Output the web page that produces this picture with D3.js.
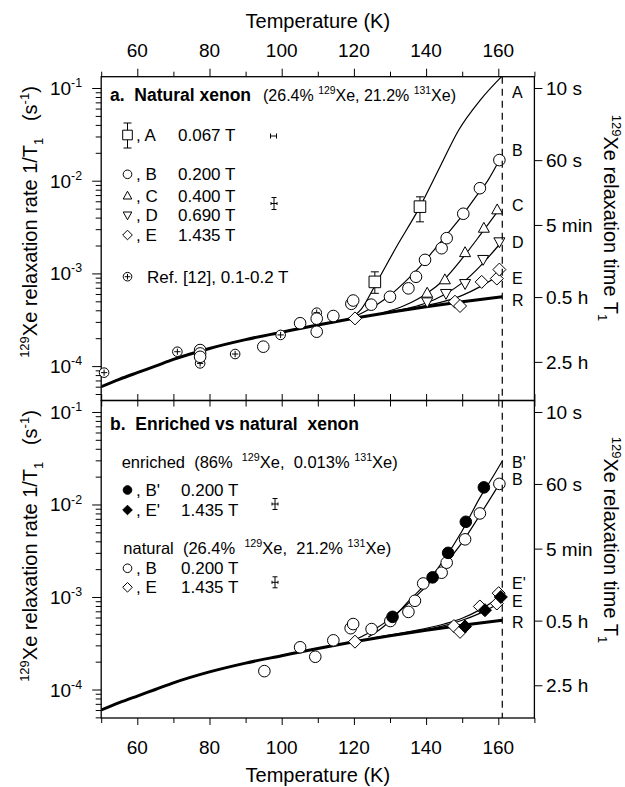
<!DOCTYPE html>
<html>
<head>
<meta charset="utf-8">
<script src="https://cdn.jsdelivr.net/npm/d3@7"></script>
<style>
  body { margin: 0; background: #fff; }
  svg { font-family: "Liberation Sans", Arial, Helvetica, sans-serif; }
  text { white-space: pre; }
</style>
</head>
<body>
<svg id="chart" width="625" height="787"></svg>
<script>
// ---- axis ticks ----
const tempMajor = [60, 80, 100, 120, 140, 160];
const tempMinor = [50, 70, 90, 110, 130, 150, 170];
const rateMajor = [1e-1, 1e-2, 1e-3, 1e-4];
const rateExp = ["-1", "-2", "-3", "-4"];
const timeTicks = [1 / 10, 1 / 60, 1 / 300, 1 / 1800, 1 / 9000];
const timeLabels = ["10 s", "60 s", "5 min", "0.5 h", "2.5 h"];
const cutoffT = 161.1;

// ---- panel a: natural xenon, [T (K), rate (1/s)] ----
const aPoints = [[125.8, 8.1e-4], [138.3, 5.25e-3]];
const aErrors = [[6.1e-4, 1.04e-3], [3.6e-3, 6.7e-3]];
const bPointsTop = [
  [77.4, 1.49e-4], [77.4, 1.37e-4], [77.4, 1.26e-4], [94.9, 1.62e-4],
  [105.1, 2.9e-4], [109.7, 3.25e-4], [109.7, 2.35e-4], [114.3, 3.47e-4],
  [119.3, 4.7e-4], [119.8, 5.1e-4], [124.8, 4.6e-4], [130, 5.6e-4],
  [135.1, 6.9e-4], [137.2, 9.2e-4], [139.7, 1.4e-3], [144.3, 1.87e-3],
  [145.7, 2.4e-3], [150.3, 4.4e-3], [154.9, 8.3e-3], [160.3, 1.67e-2]
];
const cPoints = [[140.3, 6.1e-4], [145.2, 8.5e-4], [150.8, 1.67e-3], [156, 3.06e-3], [159.7, 4.83e-3]];
const dPoints = [[140.3, 4.95e-4], [145.5, 6.1e-4], [150.8, 7.8e-4], [155.8, 1.42e-3], [160.3, 2.2e-3]];
const ePointsTop = [[120.3, 3.27e-4], [148, 4.95e-4], [149.4, 4.45e-4], [155.4, 8.1e-4], [159.6, 8.8e-4], [160.3, 1.1e-3]];
const refPoints = [[50.8, 8.5e-5], [71.1, 1.43e-4], [77.4, 1.07e-4], [87.1, 1.35e-4], [99.7, 2.17e-4], [109.7, 3.77e-4]];

// fitted curves
const curveR = [
  [50, 6.0e-5], [55, 7.2e-5], [60, 8.5e-5], [65, 1.0e-4], [70, 1.18e-4], [80, 1.55e-4],
  [90, 1.93e-4], [100, 2.32e-4], [110, 2.78e-4], [120, 3.28e-4], [130, 3.82e-4],
  [140, 4.38e-4], [150, 4.95e-4], [161.1, 5.6e-4]
];
const curveA = [[118, 3.2e-4], [122, 4.1e-4], [126, 7.6e-4], [132, 2.0e-3], [138, 5.0e-3], [144, 1.45e-2], [149, 3.5e-2], [155, 7.4e-2], [161.1, 0.135]];
const curveBTop = [[118, 3.2e-4], [122, 3.7e-4], [126, 4.5e-4], [130, 5.8e-4], [134, 8.0e-4], [138, 1.15e-3], [142, 1.75e-3], [146, 2.7e-3], [150, 4.2e-3], [154, 6.9e-3], [157, 9.9e-3], [160.3, 1.67e-2]];
const curveC = [[128, 3.75e-4], [134, 4.5e-4], [140, 6.0e-4], [145, 8.6e-4], [150, 1.45e-3], [155, 2.6e-3], [159.7, 4.6e-3]];
const curveD = [[130, 3.85e-4], [136, 4.3e-4], [140, 4.8e-4], [145, 5.9e-4], [150, 7.9e-4], [155, 1.2e-3], [160.3, 2.05e-3]];
const curveETop = [[134, 4.1e-4], [140, 4.5e-4], [145, 5.0e-4], [150, 5.8e-4], [155, 7.2e-4], [160.9, 1.0e-3]];

// ---- panel b: enriched vs natural ----
const bEnrPoints = [[130.7, 6.1e-4], [141.8, 1.63e-3], [146.1, 3.0e-3], [151, 6.5e-3], [156, 1.53e-2]];
const eEnrPoints = [[150.8, 4.8e-4], [156.3, 7.2e-4], [160.7, 1.0e-3]];
const bPointsBot = [
  [95.2, 1.58e-4], [105.1, 2.86e-4], [109.3, 2.26e-4], [114.3, 3.4e-4], [119.1, 4.6e-4],
  [119.8, 5.1e-4], [124.9, 4.5e-4], [130.1, 5.5e-4], [135.1, 6.9e-4], [136.9, 9.1e-4],
  [139.2, 1.4e-3], [144.3, 1.83e-3], [145.7, 2.35e-3], [150.8, 4.2e-3], [154.9, 8.0e-3], [160.3, 1.67e-2]
];
const ePointsBot = [[120.3, 3.29e-4], [147.7, 4.85e-4], [149.4, 4.2e-4], [154.9, 7.9e-4], [159.6, 8.5e-4], [160.1, 1.1e-3]];
const curveBEnr = [[124, 3.7e-4], [128, 4.7e-4], [131, 6.0e-4], [135, 8.9e-4], [140, 1.4e-3], [145, 2.55e-3], [150, 5.2e-3], [155, 1.2e-2], [158, 1.85e-2], [161.2, 3.0e-2]];
const curveBBot = [[120, 3.4e-4], [125, 4.3e-4], [130, 5.8e-4], [135, 8.5e-4], [140, 1.3e-3], [145, 2.2e-3], [150, 3.9e-3], [155, 7.8e-3], [160.3, 1.67e-2]];
const curveEEnr = [[125, 3.6e-4], [135, 4.2e-4], [145, 5.1e-4], [150, 5.9e-4], [155, 7.3e-4], [161.2, 1.05e-3]];
const curveEBot = [[125, 3.55e-4], [135, 4.1e-4], [145, 4.9e-4], [150, 5.6e-4], [155, 6.7e-4], [160.5, 8.6e-4]];

// curve end labels: [label, rate where the label sits]
const labelsTop = [["A", 0.091], ["B", 0.0214], ["C", 5.47e-3], ["D", 2.18e-3], ["E", 8.9e-4], ["R", 5.16e-4]];
const labelsBot = [["B'", 0.029], ["B", 0.0189], ["E'", 1.43e-3], ["E", 9.1e-4], ["R", 5.4e-4]];

const svg = d3.select("#chart");
svg.append("rect").attr("width", 625).attr("height", 787).attr("fill", "#fff");

const x = d3.scaleLinear().domain([50, 170]).range([101.2, 534.4]);
const yTop = d3.scaleLog().domain([Math.pow(10, -4.371), Math.pow(10, -0.878)]).range([400.5, 76.7]);
const yBot = d3.scaleLog().domain([Math.pow(10, -4.308), Math.pow(10, -0.876)]).range([718, 400.5]);

// text with super/subscripts: parts = [[str, kind]]
function rich(t, parts, fs) {
  let shift = 0;
  parts.forEach(([str, kind]) => {
    const target = kind === "sup" ? -fs * 0.42 : kind === "sub" ? fs * 0.28 : 0;
    t.append("tspan")
      .attr("dy", target - shift)
      .attr("font-size", kind ? fs * 0.65 : fs)
      .text(str);
    shift = target;
  });
  return t;
}

function markerPath(type, s) {
  switch (type) {
    case "square": return `M${-s},${-s}H${s}V${s}H${-s}Z`;
    case "up": return `M0,${-s * 1.1}L${s},${s * 0.7}L${-s},${s * 0.7}Z`;
    case "down": return `M0,${s * 1.1}L${s},${-s * 0.7}L${-s},${-s * 0.7}Z`;
    case "diamond": return `M0,${-s}L${s},0L0,${s}L${-s},0Z`;
    default: return d3.arc()({ innerRadius: 0, outerRadius: s, startAngle: 0, endAngle: 2 * Math.PI });
  }
}

function drawMarker(g, cx, cy, type, s, filled) {
  g.append("path")
    .attr("transform", `translate(${cx},${cy})`)
    .attr("d", markerPath(type, s))
    .attr("fill", filled ? "#000" : "#fff")
    .attr("stroke", "#000")
    .attr("stroke-width", 1);
  if (type === "plus") {
    const a = s * 0.65;
    g.append("path")
      .attr("d", `M${cx - a},${cy}H${cx + a}M${cx},${cy - a}V${cy + a}`)
      .attr("stroke", "#000").attr("stroke-width", 1);
  }
}

function drawPanel(y, yTopPx, yBottomPx, id) {
  const g = svg.append("g");
  svg.append("clipPath").attr("id", id).append("rect")
    .attr("x", x(50)).attr("y", yTopPx).attr("width", x(170) - x(50)).attr("height", yBottomPx - yTopPx);
  const plot = g.append("g").attr("clip-path", `url(#${id})`);

  // left axis, decades and minor ticks
  const minor = [];
  for (let e = -5; e <= -1; e++) for (let m = 2; m <= 9; m++) minor.push(m * Math.pow(10, e));
  const minorIn = minor.filter((v) => v >= y.domain()[0] && v <= y.domain()[1]);
  g.append("g").attr("transform", `translate(${x(50)},0)`)
    .call(d3.axisLeft(y).tickValues(minorIn).tickSize(5.5).tickFormat("").tickSizeOuter(0))
    .call((a) => a.select(".domain").remove());
  g.append("g").attr("transform", `translate(${x(50)},0)`)
    .call(d3.axisLeft(y).tickValues(rateMajor).tickSize(9).tickFormat("").tickSizeOuter(0))
    .call((a) => a.select(".domain").remove());
  rateMajor.forEach((v, i) => {
    const t = g.append("text").attr("x", 82).attr("y", y(v) + 7)
      .attr("text-anchor", "end").attr("font-size", 19);
    rich(t, [["10"], [rateExp[i], "sup"]], 19);
  });

  // right axis: relaxation time
  g.append("g").attr("transform", `translate(${x(170)},0)`)
    .call(d3.axisRight(y).tickValues(timeTicks).tickSize(8).tickFormat("").tickSizeOuter(0))
    .call((a) => a.select(".domain").remove());
  timeTicks.forEach((v, i) => {
    g.append("text").attr("x", 546).attr("y", y(v) + 7)
      .attr("font-size", 19).text(timeLabels[i]);
  });

  // frame
  g.append("rect").attr("x", x(50)).attr("y", yTopPx)
    .attr("width", x(170) - x(50)).attr("height", yBottomPx - yTopPx)
    .attr("fill", "none").attr("stroke", "#000").attr("stroke-width", 1.3);

  return { plot, marks: g.append("g") };
}

const panelA = drawPanel(yTop, 76.7, 400.5, "clipTop");
const panelB = drawPanel(yBot, 400.5, 718, "clipBot");

// x axes
svg.append("g").attr("transform", "translate(0,76.7)")
  .call(d3.axisTop(x).tickValues(tempMajor).tickSize(8).tickFormat("").tickSizeOuter(0))
  .call((a) => a.select(".domain").remove());
svg.append("g").attr("transform", "translate(0,76.7)")
  .call(d3.axisTop(x).tickValues(tempMinor).tickSize(5).tickFormat("").tickSizeOuter(0))
  .call((a) => a.select(".domain").remove());
svg.append("g").attr("transform", "translate(0,718)")
  .call(d3.axisBottom(x).tickValues(tempMajor).tickSize(7).tickFormat("").tickSizeOuter(0))
  .call((a) => a.select(".domain").remove());
svg.append("g").attr("transform", "translate(0,718)")
  .call(d3.axisBottom(x).tickValues(tempMinor).tickSize(5).tickFormat("").tickSizeOuter(0))
  .call((a) => a.select(".domain").remove());
svg.append("g").attr("transform", "translate(0,406.5)")
  .call(d3.axisTop(x).tickValues(tempMajor.concat(tempMinor)).tickSize(12.5).tickFormat("").tickSizeOuter(0))
  .call((a) => a.select(".domain").remove());

tempMajor.forEach((t) => {
  svg.append("text").attr("x", x(t)).attr("y", 57).attr("text-anchor", "middle")
    .attr("font-size", 19).text(t);
  svg.append("text").attr("x", x(t)).attr("y", 753.5).attr("text-anchor", "middle")
    .attr("font-size", 19).text(t);
});
svg.append("text").attr("x", 317.8).attr("y", 28).attr("text-anchor", "middle")
  .attr("font-size", 20).text("Temperature (K)");
svg.append("text").attr("x", 317.8).attr("y", 782).attr("text-anchor", "middle")
  .attr("font-size", 20).text("Temperature (K)");

// axis titles
[[218, 222], [540, 546]].forEach(([rc, lc]) => {
  const lt = svg.append("text").attr("transform", `translate(37,${lc}) rotate(-90)`)
    .attr("text-anchor", "middle").attr("font-size", 20);
  rich(lt, [["129", "sup"], ["Xe relaxation rate 1/T"], ["1", "sub"], ["   (s"], ["-1", "sup"], [")"]], 20);
  const rt = svg.append("text").attr("transform", `translate(604,${rc}) rotate(90)`)
    .attr("text-anchor", "middle").attr("font-size", 20);
  rich(rt, [["129", "sup"], ["Xe relaxation time T"], ["1", "sub"]], 20);
});

// dashed cutoff line across both panels
svg.append("line").attr("x1", x(cutoffT)).attr("x2", x(cutoffT))
  .attr("y1", 76.7).attr("y2", 718)
  .attr("stroke", "#000").attr("stroke-width", 1.2).attr("stroke-dasharray", "7,5");

// curves
function drawCurve(plot, y, data, width) {
  const line = d3.line().x((d) => x(d[0])).y((d) => y(d[1])).curve(d3.curveMonotoneX);
  plot.append("path").attr("d", line(data)).attr("fill", "none")
    .attr("stroke", "#000").attr("stroke-width", width);
}
[curveA, curveBTop, curveC, curveD, curveETop].forEach((c) => drawCurve(panelA.plot, yTop, c, 1.2));
drawCurve(panelA.plot, yTop, curveR, 3);
[curveBEnr, curveBBot, curveEEnr, curveEBot].forEach((c) => drawCurve(panelB.plot, yBot, c, 1.2));
drawCurve(panelB.plot, yBot, curveR, 3);

// error bars on the 0.067 T squares
aPoints.forEach((p, i) => {
  const [lo, hi] = aErrors[i];
  const cx = x(p[0]);
  panelA.marks.append("path")
    .attr("d", `M${cx},${yTop(lo)}V${yTop(hi)}M${cx - 4},${yTop(lo)}H${cx + 4}M${cx - 4},${yTop(hi)}H${cx + 4}`)
    .attr("stroke", "#000").attr("stroke-width", 1);
});

// markers
function drawSeries(g, y, data, type, s, filled) {
  data.forEach((d) => drawMarker(g, x(d[0]), y(d[1]), type, s, filled));
}
drawSeries(panelA.marks, yTop, refPoints, "plus", 4.8, false);
drawSeries(panelA.marks, yTop, bPointsTop, "circle", 5.8, false);
drawSeries(panelA.marks, yTop, ePointsTop, "diamond", 6.5, false);
drawSeries(panelA.marks, yTop, dPoints, "down", 5.5, false);
drawSeries(panelA.marks, yTop, cPoints, "up", 5.5, false);
drawSeries(panelA.marks, yTop, aPoints, "square", 5.8, false);

drawSeries(panelB.marks, yBot, bPointsBot, "circle", 5.8, false);
drawSeries(panelB.marks, yBot, ePointsBot, "diamond", 6.5, false);
drawSeries(panelB.marks, yBot, bEnrPoints, "circle", 5.8, true);
drawSeries(panelB.marks, yBot, eEnrPoints, "diamond", 6.5, true);

// end labels
labelsTop.forEach(([s, v]) => {
  svg.append("text").attr("x", 512).attr("y", yTop(v) + 6).attr("font-size", 16).text(s);
});
labelsBot.forEach(([s, v]) => {
  svg.append("text").attr("x", 512).attr("y", yBot(v) + 6).attr("font-size", 16).text(s);
});

// ---- legend, panel a ----
const leg = svg.append("g");
rich(leg.append("text").attr("x", 110).attr("y", 101).attr("font-size", 17.5).attr("font-weight", "bold"),
  [["a.  Natural xenon"]], 17.5);
rich(leg.append("text").attr("x", 263).attr("y", 101).attr("font-size", 16),
  [["(26.4% "], ["129", "sup"], ["Xe, 21.2% "], ["131", "sup"], ["Xe)"]], 16);

const legRowsTop = [
  ["square", ", A", "0.067 T", 135],
  ["circle", ", B", "0.200 T", 174.3],
  ["up", ", C", "0.400 T", 196],
  ["down", ", D", "0.690 T", 215],
  ["diamond", ", E", "1.435 T", 235]
];
legRowsTop.forEach(([type, lab, val, yy]) => {
  if (type === "square") {
    leg.append("path").attr("d", `M127.5,${yy - 12}V${yy + 13}M123.5,${yy - 12}H131.5M123.5,${yy + 13}H131.5`)
      .attr("stroke", "#000").attr("stroke-width", 1);
  }
  const s = type === "circle" ? 4.3 : type === "diamond" ? 4.8 : type === "square" ? 4.8 : 4.3;
  drawMarker(leg, 127.5, yy, type, s, false);
  leg.append("text").attr("x", 136).attr("y", yy + 6).attr("font-size", 17).text(lab);
  leg.append("text").attr("x", 178).attr("y", yy + 6).attr("font-size", 17).text(val);
});
drawMarker(leg, 127.5, 276.7, "plus", 4.3, false);
leg.append("text").attr("x", 147).attr("y", 282.7).attr("font-size", 17).text("Ref. [12], 0.1-0.2 T");

// error-bar size indicators
leg.append("path").attr("d", "M270.5,136H276.5M270.5,133.5V138.5M276.5,133.5V138.5")
  .attr("stroke", "#000").attr("stroke-width", 1);
function errGlyph(cx, cy, h) {
  leg.append("path")
    .attr("d", `M${cx},${cy - h}V${cy + h}M${cx - 2.5},${cy - h}H${cx + 2.5}M${cx - 2.5},${cy + h}H${cx + 2.5}` +
      `M${cx - 3},${cy}H${cx + 3}M${cx - 3},${cy - 1.5}V${cy + 1.5}M${cx + 3},${cy - 1.5}V${cy + 1.5}`)
    .attr("stroke", "#000").attr("stroke-width", 1);
}
errGlyph(274, 203.5, 6);

// ---- legend, panel b ----
rich(leg.append("text").attr("x", 110).attr("y", 429.5).attr("font-size", 17.5).attr("font-weight", "bold"),
  [["b.  Enriched vs natural  xenon"]], 17.5);
rich(leg.append("text").attr("x", 121.7).attr("y", 467.5).attr("font-size", 16.5),
  [["enriched  (86%  "], ["129", "sup"], ["Xe,  0.013% "], ["131", "sup"], ["Xe)"]], 16.5);
rich(leg.append("text").attr("x", 123.3).attr("y", 554).attr("font-size", 16.5),
  [["natural  (26.4%  "], ["129", "sup"], ["Xe,  21.2% "], ["131", "sup"], ["Xe)"]], 16.5);
const legRowsBot = [
  ["circle", true, ", B'", "0.200 T", 490],
  ["diamond", true, ", E'", "1.435 T", 510],
  ["circle", false, ", B", "0.200 T", 568.3],
  ["diamond", false, ", E", "1.435 T", 587.3]
];
legRowsBot.forEach(([type, filled, lab, val, yy]) => {
  drawMarker(leg, 127.5, yy, type, type === "circle" ? 4.3 : 4.8, filled);
  leg.append("text").attr("x", 136).attr("y", yy + 6).attr("font-size", 17).text(lab);
  leg.append("text").attr("x", 181).attr("y", yy + 6).attr("font-size", 17).text(val);
});
errGlyph(275, 504, 5.5);
errGlyph(275, 582.3, 5.5);
</script>
</body>
</html>
